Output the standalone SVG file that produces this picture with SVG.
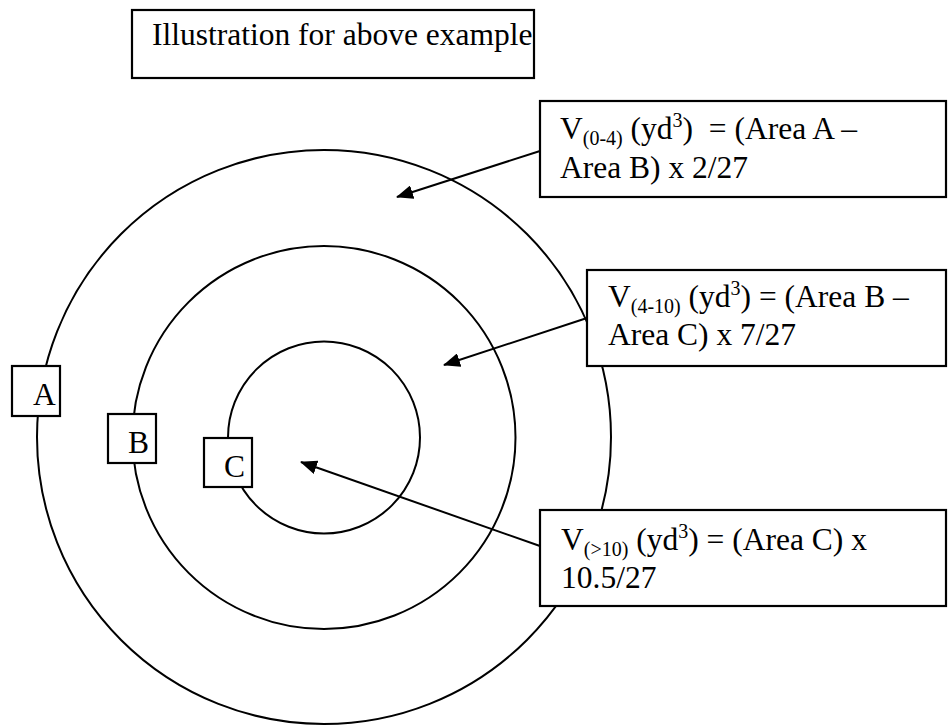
<svg xmlns="http://www.w3.org/2000/svg" width="948" height="726" viewBox="0 0 948 726">
<style>
.bg{fill:#fff}
.ring{fill:none;stroke:#000;stroke-width:2}
.box{fill:#fff;stroke:#000;stroke-width:2.2}
.t{font-family:"Liberation Serif","Times New Roman",serif;font-size:31.5px;fill:#000}
.s{font-size:20px}
.conn{stroke:#000;stroke-width:2;fill:none}
</style>
<defs>
<marker id="ah" viewBox="0 0 17 14" refX="16" refY="7" markerWidth="17" markerHeight="14" markerUnits="userSpaceOnUse" orient="auto">
<path d="M0,0 L17,7 L0,14 z" fill="#000"/>
</marker>
</defs>
<rect class="bg" x="0" y="0" width="948" height="726"/>
<g id="rings">
<circle id="ringA" class="ring" cx="324" cy="437" r="287"/>
<circle id="ringB" class="ring" cx="324" cy="437.5" r="191.5"/>
<circle id="ringC" class="ring" cx="324" cy="437.5" r="96"/>
</g>
<g id="connectors">
<line class="conn" x1="540" y1="151" x2="397" y2="197" marker-end="url(#ah)"/>
<line class="conn" x1="587" y1="318" x2="444" y2="365" marker-end="url(#ah)"/>
<line class="conn" x1="540" y1="546" x2="301" y2="462" marker-end="url(#ah)"/>
</g>
<g id="title">
<rect class="box" x="132" y="10" width="402" height="68"/>
<text class="t" x="152" y="45">Illustration for above example</text>
</g>
<g id="labelA">
<rect class="box" x="12" y="366" width="48" height="50"/>
<text class="t" x="33" y="405">A</text>
</g>
<g id="labelB">
<rect class="box" x="108" y="414" width="48" height="49"/>
<text class="t" x="128" y="453">B</text>
</g>
<g id="labelC">
<rect class="box" x="204" y="438" width="48" height="49"/>
<text class="t" x="224" y="477">C</text>
</g>
<g id="note1">
<rect class="box" x="540" y="101" width="406" height="96"/>
<text class="t" x="560" y="139" xml:space="preserve">V<tspan class="s" dy="6">(0-4)</tspan><tspan dy="-6"> (yd</tspan><tspan class="s" dy="-12">3</tspan><tspan dy="12">)  = (Area A –</tspan></text>
<text class="t" x="560" y="178">Area B) x 2/27</text>
</g>
<g id="note2">
<rect class="box" x="587" y="270" width="359" height="96"/>
<text class="t" x="608" y="307" xml:space="preserve">V<tspan class="s" dy="6">(4-10)</tspan><tspan dy="-6"> (yd</tspan><tspan class="s" dy="-12">3</tspan><tspan dy="12">) = (Area B –</tspan></text>
<text class="t" x="608" y="345">Area C) x 7/27</text>
</g>
<g id="note3">
<rect class="box" x="540" y="510" width="406" height="96"/>
<text class="t" x="561" y="550" xml:space="preserve">V<tspan class="s" dy="6">(&gt;10)</tspan><tspan dy="-6"> (yd</tspan><tspan class="s" dy="-12">3</tspan><tspan dy="12">) = (Area C) x</tspan></text>
<text class="t" x="561" y="588">10.5/27</text>
</g>
</svg>
